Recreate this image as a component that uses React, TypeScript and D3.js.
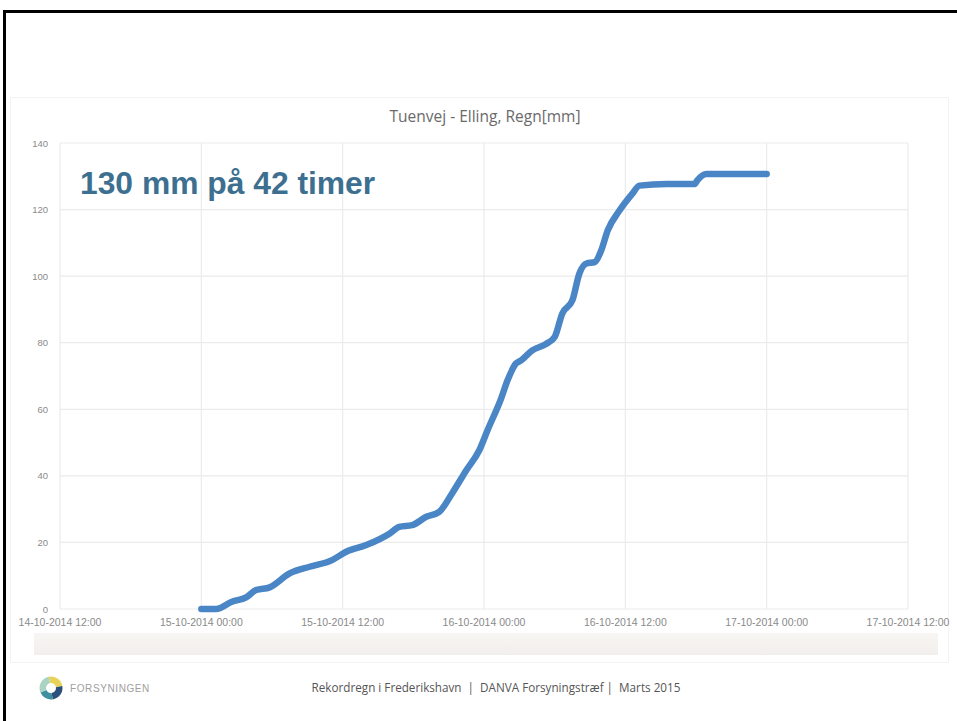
import React from "react";
import * as d3 from "d3";

// ---- data ----
const chartTitle = "Tuenvej - Elling, Regn[mm]";
const annotation = "130 mm på 42 timer";
const footerText = "Rekordregn i Frederikshavn  |  DANVA Forsyningstræf |  Marts 2015";
const logoText = "FORSYNINGEN";
// hours after 15-10-2014 00:00
const hoursAfterStart = [0, 1.25, 2.6, 3.8, 4.65, 5.8, 7.5, 9.2, 11.1, 12.3, 14, 16, 16.8, 17.9, 19.1, 20.2, 21.3, 22.5, 23.6, 24.3, 25.45, 26, 26.7, 27.15, 28.1, 29.3, 30, 30.65, 31.5, 32.1, 32.7, 33.4, 33.95, 34.5, 35.5, 36.6, 37.2, 39.5, 41.9, 42.1, 42.9, 48];
const rainMm = [0, 0, 2.2, 3.5, 5.7, 6.5, 10.7, 12.7, 14.7, 17.2, 19.2, 22.7, 24.7, 25.2, 27.7, 29.2, 34.8, 41.7, 47.7, 53.7, 63.2, 68.7, 73.7, 74.7, 77.7, 79.7, 81.7, 88.8, 92.7, 100.8, 103.8, 104.2, 107.7, 113.7, 119.7, 124.8, 127.2, 127.7, 127.7, 128.7, 130.7, 130.7];
const yTicks = [0, 20, 40, 60, 80, 100, 120, 140];
const xDomainStart = Date.UTC(2014, 9, 14, 12, 0);
const xDomainEnd = Date.UTC(2014, 9, 17, 12, 0);
const seriesStart = Date.UTC(2014, 9, 15, 0, 0);

export default function App() {
  const W = 957, H = 721;
  const x = d3.scaleUtc().domain([new Date(xDomainStart), new Date(xDomainEnd)]).range([60, 908]);
  const y = d3.scaleLinear().domain([0, 140]).range([609, 143]);
  const xTicks = x.ticks(d3.utcHour.every(12) as any);
  const fmt = d3.utcFormat("%d-%m-%Y %H:%M");
  const pts = hoursAfterStart.map((h, i) => ({ t: new Date(seriesStart + h * 3600000), v: rainMm[i] }));
  const line = d3.line<{ t: Date; v: number }>().x(d => x(d.t)).y(d => y(d.v)).curve(d3.curveMonotoneX);

  // logo ring segments
  const ringArc = d3.arc<any>().innerRadius(5).outerRadius(11.5);
  const ringSegs = [
    { s: -0.2, e: 1.4, c: "#e7d35a" },
    { s: 1.4, e: 3.0, c: "#2d4f7c" },
    { s: 3.0, e: 4.3, c: "#3f8fa0" },
    { s: 4.3, e: 6.083, c: "#a9d4c4" },
  ];

  return (
    <svg width={W} height={H} style={{ position: "absolute", left: 0, top: 0, background: "#fff", overflow: "hidden" }}
      fontFamily="'Liberation Sans', Arial, sans-serif">
      <rect x={0} y={0} width={W} height={H} fill="#fff" />
      {/* slide frame (top and left edges visible) */}
      <line x1={3} x2={W} y1={11.5} y2={11.5} stroke="#000" strokeWidth={3} />
      <line x1={4.5} x2={4.5} y1={10} y2={H} stroke="#000" strokeWidth={3} />
      {/* chart panel */}
      <rect x={10.5} y={97.5} width={938} height={565} fill="none" stroke="#f3f3f3" strokeWidth={1} />
      <text x={485} y={122} textAnchor="middle" fontFamily="'Open Sans', sans-serif" fontSize={15.5} fill="#6a6a6a">{chartTitle}</text>

      {/* grid */}
      {yTicks.map(t => (
        <line key={"gy" + t} x1={60} x2={908} y1={y(t)} y2={y(t)} stroke="#ebebeb" strokeWidth={1.2} />
      ))}
      {xTicks.map((t, i) => (
        <line key={"gx" + i} x1={x(t)} x2={x(t)} y1={143} y2={609} stroke="#ebebeb" strokeWidth={1.2} />
      ))}
      {yTicks.map(t => (
        <text key={"ly" + t} x={48} y={y(t) + 3.5} textAnchor="end" fontSize={9.5} fill="#8a8a8a">{t}</text>
      ))}
      {xTicks.map((t, i) => (
        <text key={"lx" + i} x={x(t)} y={626} textAnchor="middle" fontSize={10.5} fill="#8a8a8a">{fmt(t)}</text>
      ))}

      {/* band below axis */}
      <defs>
        <linearGradient id="band" x1="0" y1="0" x2="0" y2="1">
          <stop offset="0" stopColor="#f8f6f4" />
          <stop offset="1" stopColor="#f1eeeb" />
        </linearGradient>
      </defs>
      <rect x={34} y={633} width={904} height={22} fill="url(#band)" />

      {/* series */}
      <path d={line(pts) || ""} fill="none" stroke="#4a86c6" strokeWidth={6.5} strokeLinejoin="round" strokeLinecap="round" />

      <text x={80} y={194} fontSize={31.8} fontWeight="bold" fill="#3d6f90">{annotation}</text>

      {/* footer */}
      <g transform="translate(51,688)">
        {ringSegs.map((s, i) => (
          <path key={i} d={ringArc({ startAngle: s.s, endAngle: s.e }) || ""} fill={s.c} />
        ))}
      </g>
      <text x={70} y={692} fontSize={10} fill="#a0a0a0" letterSpacing={0.6}>{logoText}</text>
      <text x={496} y={692} textAnchor="middle" fontFamily="'Open Sans', sans-serif" fontSize={11.7} fill="#555" style={{ whiteSpace: "pre" }}>{footerText}</text>
    </svg>
  );
}
